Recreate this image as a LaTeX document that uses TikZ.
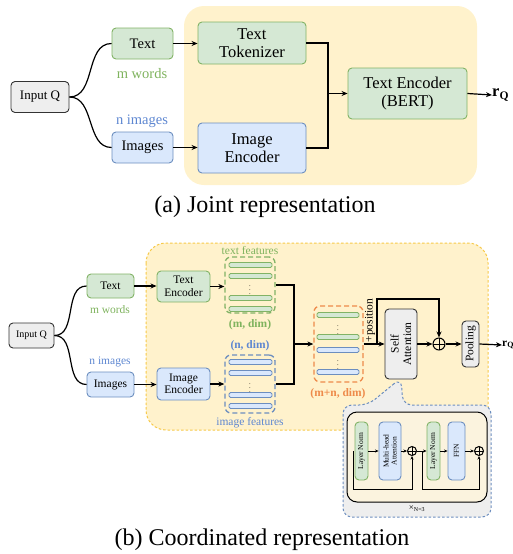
\documentclass[tikz,border=0pt]{standalone}
\usepackage{fontspec}
\setmainfont{Liberation Serif}
\usetikzlibrary{arrows.meta, calc, positioning}
\definecolor{PanelFill}{HTML}{FFF2CC}
\definecolor{PanelEdge}{HTML}{F7C948}
\definecolor{LeafFill}{HTML}{D5E8D4}
\definecolor{LeafEdge}{HTML}{82B366}
\definecolor{SkyFill}{HTML}{DAE8FC}
\definecolor{SkyEdge}{HTML}{6C8EBF}
\definecolor{GreyFill}{HTML}{EEEEEE}
\definecolor{Ink}{HTML}{333333}
\definecolor{LeafText}{HTML}{7FB35E}
\definecolor{SkyText}{HTML}{5E87D1}
\definecolor{Tangerine}{HTML}{EE8A4A}
\definecolor{InnerFill}{HTML}{FBF3DE}
\tikzset{
  flow/.style={-{Stealth[length=6pt,width=5pt]}, line width=1.2pt, color=black},
  thinflow/.style={-{Stealth[length=3.5pt,width=3pt]}, line width=0.9pt, color=black},
  wire/.style={line width=1.2pt, color=black},
  leafbox/.style={draw=LeafEdge, fill=LeafFill, rounded corners=4pt, line width=0.9pt, align=center, inner sep=0pt},
  skybox/.style={draw=SkyEdge, fill=SkyFill, rounded corners=4pt, line width=0.9pt, align=center, inner sep=0pt},
  greybox/.style={draw=Ink, fill=GreyFill, rounded corners=4pt, line width=0.9pt, align=center, inner sep=0pt},
  featbox/.style={dash pattern=on 5pt off 3pt, line width=1.3pt, rounded corners=6pt, minimum width=50pt, inner sep=0pt},
  leafbar/.style={draw=LeafEdge, fill=LeafFill, rounded corners=1.5pt, line width=0.8pt},
  skybar/.style={draw=SkyEdge, fill=SkyFill, rounded corners=1.5pt, line width=0.8pt},
  dotsmark/.style={inner sep=0pt, font=\fontsize{6.5}{6.5}\selectfont},
  oplus/.style={circle, draw, line width=1pt, inner sep=0pt, minimum size=#1,
    path picture={\draw[line width=1pt] (path picture bounding box.north) -- (path picture bounding box.south)
      (path picture bounding box.west) -- (path picture bounding box.east);}},
  bigfont/.style={font=\fontsize{16.5}{18}\selectfont},
  midfont/.style={font=\fontsize{14.5}{16}\selectfont},
  smallfont/.style={font=\fontsize{11.5}{12.5}\selectfont},
  tinyfont/.style={font=\fontsize{7.5}{8}\selectfont},
  caption/.style={font=\fontsize{24}{26}\selectfont},
}

\begin{document}
\begin{tikzpicture}[x=1pt, y=-1pt]
  \useasboundingbox (0,0) rectangle (513,554);

  % (a) joint representation
  \fill[PanelFill, rounded corners=20pt] (184,6) rectangle (477,185);
  \node[greybox, minimum width=58pt, minimum height=31pt, font=\fontsize{13}{14}\selectfont] (inA) at (40,97) {Input Q};
  \node[leafbox, midfont, minimum width=61pt, minimum height=31pt] (txtA) at (142.5,43.5) {Text};
  \node[midfont, text=LeafText] (mwA) at (142,74) {m words};
  \node[midfont, text=SkyText] (niA) at (142,121) {n images};
  \node[skybox, midfont, minimum width=61pt, minimum height=31pt] (imgA) at (142.5,147.5) {Images};
  \node[leafbox, bigfont, minimum width=108pt, minimum height=42pt] (tokA) at (252,43) {Text\\Tokenizer};
  \node[skybox, bigfont, minimum width=108pt, minimum height=50pt] (ienA) at (252,148) {Image\\Encoder};
  \node[leafbox, bigfont, minimum width=119pt, minimum height=51pt] (tenA) at (407.5,93.5) {Text Encoder\\(BERT)};
  \node[bigfont, anchor=west, inner sep=0pt] (rqA) at (492,95) {\textbf{r}\textsubscript{\textbf{Q}}};
  \coordinate (jA) at (328,93.5);

  \draw[wire] (inA.east) to[out=0, in=180] (txtA.west);
  \draw[wire] (inA.east) to[out=0, in=180] (imgA.west);
  \draw[flow] (txtA.east) -- (txtA.east -| tokA.west);
  \draw[flow] (imgA.east) -- (imgA.east -| ienA.west);
  \draw[wire] (tokA.east) -| (jA);
  \draw[wire] (ienA.east) -| (jA);
  \draw[flow] (jA) -- (tenA.west);
  \draw[flow] (tenA.east) -- (rqA.west);
  \node[caption] (capA) at (265,207) {(a) Joint representation};

  % (b) coordinated representation
  \draw[PanelEdge, fill=PanelFill, dash pattern=on 2.5pt off 2pt, line width=1pt, rounded corners=20pt] (146,243) rectangle (488,430);
  \coordinate (saFoot) at (401,378);
  \draw[SkyEdge, fill=GreyFill, dash pattern=on 2.5pt off 2pt, line width=1pt, rounded corners=9pt]
    (saFoot) -- (368,405) -- (343,405) -- (343,517) -- (491,517) -- (491,405) -- (403,405) -- cycle;
  \draw[fill=InnerFill, rounded corners=10pt, line width=1pt] (347,412) rectangle (487,502);

  \node[greybox, font=\fontsize{10}{11}\selectfont, minimum width=45pt, minimum height=25pt] (inB) at (31.5,335.5) {Input Q};
  \node[leafbox, smallfont, minimum width=47pt, minimum height=24pt] (txtB) at (110.5,286) {Text};
  \node[smallfont, text=LeafText] (mwB) at (110,310) {m words};
  \node[smallfont, text=SkyText] (niB) at (110,362) {n images};
  \node[skybox, smallfont, minimum width=47pt, minimum height=25pt] (imgB) at (110.5,384.5) {Images};
  \node[leafbox, smallfont, minimum width=53pt, minimum height=31pt] (tenB) at (183.5,286.5) {Text\\Encoder};
  \node[skybox, smallfont, minimum width=53pt, minimum height=32pt] (ienB) at (183.5,384) {Image\\Encoder};

  \node[featbox, draw=LeafEdge, minimum height=56pt] (tfeat) at (250,285) {};
  \foreach \y in {265,276,298,309}
    \draw[leafbar] (229,\y-2.5) rectangle (272,\y+2.5);
  \node[dotsmark] (tdots) at (250,287) {$\vdots$};
  \node[featbox, draw=SkyEdge, minimum height=58pt] (ifeat) at (250,384) {};
  \foreach \y in {362,373,395,406}
    \draw[skybar] (229,\y-2.5) rectangle (272,\y+2.5);
  \node[dotsmark] (idots) at (250,385) {$\vdots$};
  \node[smallfont, text=LeafText] (tlab) at (250,251) {text features};
  \node[smallfont, text=LeafText] (mdim) at (250,325) {\textbf{(m, dim)}};
  \node[smallfont, text=SkyText] (ndim) at (250,346) {\textbf{(n, dim)}};
  \node[smallfont, text=SkyText] (ilab) at (250,423) {image features};

  \node[featbox, draw=Tangerine, minimum width=49pt, minimum height=76pt] (mstack) at (338.5,344) {};
  \foreach \y in {315,337}
    \draw[leafbar] (317,\y-2.5) rectangle (359,\y+2.5);
  \foreach \y in {350,372}
    \draw[skybar] (317,\y-2.5) rectangle (359,\y+2.5);
  \node[dotsmark] (mdots1) at (338,327) {$\vdots$};
  \node[dotsmark] (mdots2) at (338,362) {$\vdots$};
  \node[smallfont, text=Tangerine] (mndim) at (338,394) {\textbf{(m+n, dim)}};

  \node[greybox, smallfont, rotate=90, minimum width=70pt, minimum height=32pt] (sa) at (401,344) {Self\\Attention};
  \node[oplus=12pt] (opB) at (439,344) {};
  \node[greybox, smallfont, rotate=90, minimum width=46pt, minimum height=17pt] (pool) at (470.5,344) {Pooling};
  \node[smallfont, anchor=west, inner sep=0pt] (rqB) at (502,345) {\textbf{r}\textsubscript{\textbf{Q}}};
  \coordinate (jB) at (294,344);
  \coordinate (skB) at (377,344);
  \coordinate (skTop) at (377,299);

  \draw[wire] (inB.east) to[out=0, in=180] (txtB.west);
  \draw[wire] (inB.east) to[out=0, in=180] (imgB.west);
  \draw[flow] (txtB.east) -- (txtB.east -| tenB.west);
  \draw[flow] (imgB.east) -- (imgB.east -| ienB.west);
  \draw[flow] (tenB.east) -- (tenB.east -| tfeat.west);
  \draw[flow] (ienB.east) -- (ienB.east -| ifeat.west);
  \draw[wire] (tfeat.east) -| (jB);
  \draw[wire] (ifeat.east) -| (jB);
  \draw[flow] (jB) -- (mstack.west);
  \draw[flow] (mstack.east) -- (sa.north) node[pos=0.3, rotate=90, anchor=west, smallfont, inner sep=1pt] {+position};
  \draw[flow] (skB) -- (skTop) -| (opB.north);
  \draw[flow] (sa.south) -- (opB.west);
  \draw[flow] (opB.east) -- (pool.north);
  \draw[flow] (pool.south) -- (rqB.west);

  % stacked block, x N
  \node[oplus=9pt] (op1) at (412,451) {};
  \node[oplus=9pt] (op2) at (479,451) {};
  \coordinate (in1) at (353,451);
  \coordinate (in2) at (422,451);
  \draw[thinflow] (in1) -- ++(0,38) -| (op1.south);
  \draw[thinflow] (in2) -- ++(0,38) -| (op2.south);
  \node[leafbox, tinyfont, rotate=90, minimum width=58pt, minimum height=13pt] (ln1) at (361.5,451) {Layer Norm};
  \node[skybox, tinyfont, rotate=90, minimum width=58pt, minimum height=22pt] (mha) at (390,451) {Multi-head\\Attention};
  \node[leafbox, tinyfont, rotate=90, minimum width=58pt, minimum height=13pt] (ln2) at (433.5,451) {Layer Norm};
  \node[skybox, tinyfont, rotate=90, minimum width=58pt, minimum height=17pt] (ffn) at (456.5,451) {FFN};
  \draw[thinflow] (ln1.south) -- (mha.north);
  \draw[thinflow] (mha.south) -- (op1.west);
  \draw[thinflow] (op1.east) -- (ln2.north);
  \draw[thinflow] (ln2.south) -- (ffn.north);
  \draw[thinflow] (ffn.south) -- (op2.west);
  \node[font=\fontsize{9}{9}\selectfont, inner sep=1pt] (nrep) at (417,509) {×\textsubscript{N=3}};
  \node[caption] (capB) at (262,540) {(b) Coordinated representation};
\end{tikzpicture}
\end{document}
